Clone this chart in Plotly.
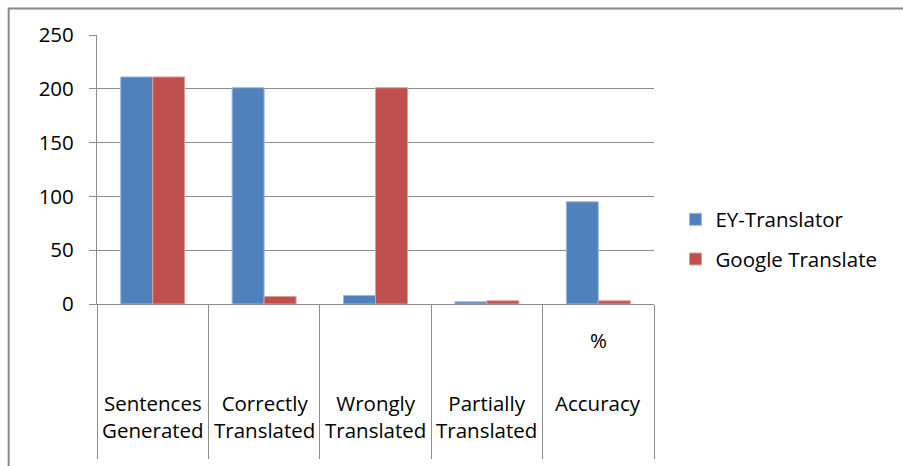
import plotly.graph_objects as go

categories = ["Sentences Generated", "Correctly Translated", "Wrongly Translated",
              "Partially Translated", "% Accuracy"]
label_lines = [["Sentences", "Generated"], ["Correctly", "Translated"],
               ["Wrongly", "Translated"], ["Partially", "Translated"], ["Accuracy"]]
ey_values = [211, 201, 8, 2, 95]
google_values = [211, 7, 201, 3, 3]
series_names = ["EY-Translator", "Google Translate"]
y_ticks = [0, 50, 100, 150, 200, 250]

W, H = 903, 466
L, R, T, B = 96.5, 248.5, 35, 162
pw, ph = W - L - R, H - T - B

FONT = "Open Sans"
FS = 20.5
GRID = "#8c8c8c"

fig = go.Figure()
fig.add_trace(go.Bar(x=categories, y=ey_values, name=series_names[0],
                     marker=dict(color="#4F81BD", line=dict(color="#9db8dc", width=1)),
                     legendgroup="a"))
fig.add_trace(go.Bar(x=categories, y=google_values, name=series_names[1],
                     marker=dict(color="#C0504D", line=dict(color="#dc9d9b", width=1)),
                     legendgroup="b"))

annotations = []
for cat, lines in zip(categories, label_lines):
    annotations.append(dict(x=cat, xref="x", y=(304 - 387) / ph, yref="paper",
                            yanchor="top", xanchor="center", showarrow=False,
                            text="<br>".join(lines),
                            font=dict(family=FONT, size=FS, color="#000000")))
annotations.append(dict(x=categories[4], xref="x", y=(304 - 340) / ph, yref="paper",
                        yanchor="middle", xanchor="center", showarrow=False,
                        text="%", font=dict(family=FONT, size=FS, color="#000000")))

fig.update_layout(
    width=W, height=H,
    margin=dict(l=L, r=R, t=T, b=B, pad=0),
    paper_bgcolor="white", plot_bgcolor="white",
    barmode="group", bargap=0.426, bargroupgap=0,
    font=dict(family=FONT, size=FS, color="#000000"),
    xaxis=dict(showticklabels=False, ticks="outside", tickson="boundaries",
               ticklen=154, tickcolor=GRID, tickwidth=1.2, automargin=False,
               showline=True, linecolor=GRID, linewidth=1.2, showgrid=False,
               zeroline=False),
    yaxis=dict(range=[0, 250], tickvals=y_ticks, ticks="outside", ticklen=7,
               tickcolor=GRID, tickwidth=1.2, showline=True, linecolor=GRID,
               linewidth=1.2, showgrid=True, gridcolor=GRID, gridwidth=1.2,
               zeroline=False, ticklabelstandoff=11, automargin=False,
               tickfont=dict(family=FONT, size=FS, color="#000000")),
    legend=dict(x=(676 - L) / pw, xanchor="left", y=(304 - 239.5) / ph, yanchor="middle",
                font=dict(family=FONT, size=FS, color="#000000"),
                tracegroupgap=10, bgcolor="rgba(0,0,0,0)"),
    annotations=annotations,
    shapes=[dict(type="rect", xref="paper", yref="paper",
                 x0=(8 - L) / pw, x1=(W + 20 - L) / pw,
                 y0=(304 - H - 20) / ph, y1=(304 - 8.5) / ph,
                 line=dict(color="#888888", width=2), fillcolor="rgba(0,0,0,0)",
                 layer="below")],
)

fig.write_html("out.html")
